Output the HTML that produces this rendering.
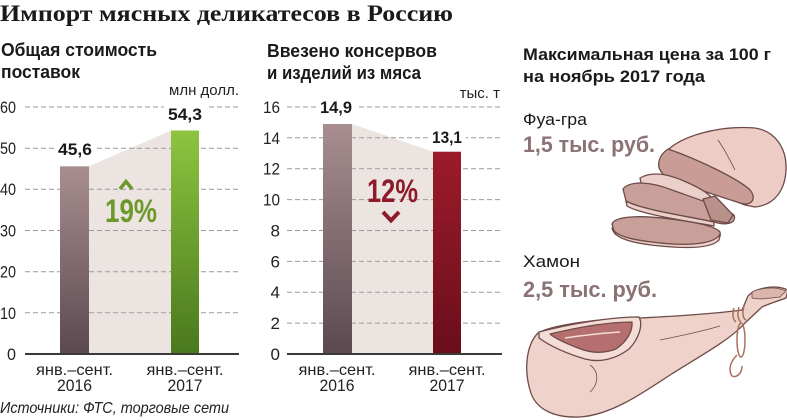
<!DOCTYPE html>
<html><head><meta charset="utf-8"><style>
html,body{margin:0;padding:0;background:#fff;}
svg{display:block;}
text{font-family:"Liberation Sans","Noto Sans CJK SC",sans-serif;}
</style></head><body>
<svg width="787" height="420" viewBox="0 0 787 420" xmlns="http://www.w3.org/2000/svg">
<defs>
<linearGradient id="gm" x1="0" y1="0" x2="0" y2="1"><stop offset="0" stop-color="#a88e90"/><stop offset="1" stop-color="#5b4950"/></linearGradient>
<linearGradient id="gg" x1="0" y1="0" x2="0" y2="1"><stop offset="0" stop-color="#8ec43f"/><stop offset="1" stop-color="#4a781d"/></linearGradient>
<linearGradient id="gr" x1="0" y1="0" x2="0" y2="1"><stop offset="0" stop-color="#9c1b2b"/><stop offset="1" stop-color="#6a0e1a"/></linearGradient>
</defs>

<!-- Title -->
<text x="0" y="21" font-weight="bold" font-size="23" fill="#1a1a1a" textLength="453" lengthAdjust="spacingAndGlyphs" style="font-family:'Liberation Serif',serif">Импорт мясных деликатесов в Россию</text>

<!-- LEFT CHART -->
<text x="1" y="56" font-weight="bold" font-size="18" fill="#1a1a1a" textLength="156" lengthAdjust="spacingAndGlyphs">Общая стоимость</text>
<text x="1" y="78" font-weight="bold" font-size="18" fill="#1a1a1a" textLength="79" lengthAdjust="spacingAndGlyphs">поставок</text>
<text x="239" y="95" text-anchor="end" font-size="15" fill="#222">млн долл.</text>

<polygon points="89,166.3 171,130.5 171,353 89,353" fill="#ece4e1"/>
<g stroke="#9a9a9a" stroke-width="1" stroke-dasharray="5,3">
<line x1="25" y1="107" x2="239" y2="107"/>
<line x1="25" y1="148.2" x2="239" y2="148.2"/>
<line x1="25" y1="189.3" x2="239" y2="189.3"/>
<line x1="25" y1="230.5" x2="239" y2="230.5"/>
<line x1="25" y1="271.7" x2="239" y2="271.7"/>
<line x1="25" y1="312.8" x2="239" y2="312.8"/>
</g>
<g font-size="17" fill="#222" text-anchor="end">
<text x="16" y="113" textLength="16" lengthAdjust="spacingAndGlyphs">60</text>
<text x="16" y="154" textLength="16" lengthAdjust="spacingAndGlyphs">50</text>
<text x="16" y="195" textLength="16" lengthAdjust="spacingAndGlyphs">40</text>
<text x="16" y="236.5" textLength="16" lengthAdjust="spacingAndGlyphs">30</text>
<text x="16" y="277.7" textLength="16" lengthAdjust="spacingAndGlyphs">20</text>
<text x="16" y="318.8" textLength="16" lengthAdjust="spacingAndGlyphs">10</text>
<text x="16" y="360" textLength="9" lengthAdjust="spacingAndGlyphs">0</text>
</g>
<rect x="60" y="166.3" width="29" height="187" fill="url(#gm)"/>
<rect x="171" y="130.5" width="28" height="223" fill="url(#gg)"/>
<rect x="54" y="140" width="42" height="18" fill="#fff"/>
<rect x="164" y="104" width="42" height="19" fill="#fff"/>
<text x="75" y="155" text-anchor="middle" font-weight="bold" font-size="17" fill="#1a1a1a" textLength="34" lengthAdjust="spacingAndGlyphs">45,6</text>
<text x="185" y="120" text-anchor="middle" font-weight="bold" font-size="17" fill="#1a1a1a" textLength="34" lengthAdjust="spacingAndGlyphs">54,3</text>
<polyline points="120,189 126,181.5 132,189" fill="none" stroke="#6b9a2b" stroke-width="3.5"/>
<text x="105" y="222" font-size="32" font-weight="bold" fill="#6b9a2b" textLength="52" lengthAdjust="spacingAndGlyphs">19%</text>
<line x1="25" y1="354" x2="239" y2="354" stroke="#3a3a3a" stroke-width="2"/>
<text x="74.5" y="375" text-anchor="middle" font-size="16" fill="#222" textLength="77" lengthAdjust="spacingAndGlyphs">янв.–сент.</text>
<text x="74.5" y="391" text-anchor="middle" font-size="17" fill="#222" textLength="35" lengthAdjust="spacingAndGlyphs">2016</text>
<text x="185" y="375" text-anchor="middle" font-size="16" fill="#222" textLength="77" lengthAdjust="spacingAndGlyphs">янв.–сент.</text>
<text x="185" y="391" text-anchor="middle" font-size="17" fill="#222" textLength="35" lengthAdjust="spacingAndGlyphs">2017</text>
<text x="0" y="413" font-style="italic" font-size="16" fill="#222" textLength="229" lengthAdjust="spacingAndGlyphs">Источники: ФТС, торговые сети</text>

<!-- MIDDLE CHART -->
<text x="267" y="57" font-weight="bold" font-size="18" fill="#1a1a1a" textLength="170" lengthAdjust="spacingAndGlyphs">Ввезено консервов</text>
<text x="267" y="79" font-weight="bold" font-size="18" fill="#1a1a1a" textLength="154" lengthAdjust="spacingAndGlyphs">и изделий из мяса</text>
<text x="500" y="98" text-anchor="end" font-size="15" fill="#222">тыс. т</text>

<polygon points="352,124 433,151.7 433,353 352,353" fill="#ece4e1"/>
<g stroke="#9a9a9a" stroke-width="1" stroke-dasharray="5,3">
<line x1="287" y1="107" x2="502" y2="107"/>
<line x1="287" y1="137.8" x2="502" y2="137.8"/>
<line x1="287" y1="168.7" x2="502" y2="168.7"/>
<line x1="287" y1="199.6" x2="502" y2="199.6"/>
<line x1="287" y1="230.5" x2="502" y2="230.5"/>
<line x1="287" y1="261.4" x2="502" y2="261.4"/>
<line x1="287" y1="292.2" x2="502" y2="292.2"/>
<line x1="287" y1="323.1" x2="502" y2="323.1"/>
</g>
<g font-size="17" fill="#222" text-anchor="end">
<text x="280" y="113" textLength="17" lengthAdjust="spacingAndGlyphs">16</text>
<text x="280" y="143.8" textLength="17" lengthAdjust="spacingAndGlyphs">14</text>
<text x="280" y="174.7" textLength="17" lengthAdjust="spacingAndGlyphs">12</text>
<text x="280" y="205.6" textLength="17" lengthAdjust="spacingAndGlyphs">10</text>
<text x="280" y="236.5">8</text>
<text x="280" y="267.4">6</text>
<text x="280" y="298.2">4</text>
<text x="280" y="329.1">2</text>
<text x="280" y="360">0</text>
</g>
<rect x="323" y="124" width="29" height="229.5" fill="url(#gm)"/>
<rect x="433" y="151.7" width="28" height="202" fill="url(#gr)"/>
<rect x="316" y="98" width="40" height="18" fill="#fff"/>
<rect x="428" y="127" width="38" height="18" fill="#fff"/>
<text x="336" y="113" text-anchor="middle" font-weight="bold" font-size="17" fill="#1a1a1a" textLength="32" lengthAdjust="spacingAndGlyphs">14,9</text>
<text x="447" y="143" text-anchor="middle" font-weight="bold" font-size="17" fill="#1a1a1a" textLength="30" lengthAdjust="spacingAndGlyphs">13,1</text>
<text x="367" y="202" font-size="32" font-weight="bold" fill="#8d1b29" textLength="51" lengthAdjust="spacingAndGlyphs">12%</text>
<polyline points="383,212 391,220.5 399,212" fill="none" stroke="#8d1b29" stroke-width="4"/>
<line x1="287" y1="354" x2="502" y2="354" stroke="#3a3a3a" stroke-width="2"/>
<text x="337" y="375" text-anchor="middle" font-size="16" fill="#222" textLength="77" lengthAdjust="spacingAndGlyphs">янв.–сент.</text>
<text x="337" y="391" text-anchor="middle" font-size="17" fill="#222" textLength="35" lengthAdjust="spacingAndGlyphs">2016</text>
<text x="447" y="375" text-anchor="middle" font-size="16" fill="#222" textLength="77" lengthAdjust="spacingAndGlyphs">янв.–сент.</text>
<text x="447" y="391" text-anchor="middle" font-size="17" fill="#222" textLength="35" lengthAdjust="spacingAndGlyphs">2017</text>

<!-- RIGHT PANEL -->
<text x="523" y="60" font-weight="bold" font-size="17" fill="#1a1a1a" textLength="248" lengthAdjust="spacingAndGlyphs">Максимальная цена за 100 г</text>
<text x="523" y="82" font-weight="bold" font-size="17" fill="#1a1a1a" textLength="182" lengthAdjust="spacingAndGlyphs">на ноябрь 2017 года</text>
<text x="523" y="125" font-size="17" fill="#1a1a1a" textLength="64" lengthAdjust="spacingAndGlyphs">Фуа-гра</text>
<text x="523" y="152" font-weight="bold" font-size="22" fill="#8b7274" textLength="132" lengthAdjust="spacingAndGlyphs">1,5 тыс. руб.</text>
<text x="523" y="267" font-size="17" fill="#1a1a1a" textLength="57" lengthAdjust="spacingAndGlyphs">Хамон</text>
<text x="523" y="297" font-weight="bold" font-size="22" fill="#8b7274" textLength="134" lengthAdjust="spacingAndGlyphs">2,5 тыс. руб.</text>

<!-- Foie gras -->
<g stroke="#6e4b48" stroke-width="1.3" stroke-linejoin="round">
<path d="M666,152 C680,136 720,125 755,128 C775,131 787,148 786,170 C785,190 775,205 755,207 L745,205 L680,180 Z" fill="#ecccc5"/>
<path d="M668,149 C659,155 655,166 663,174 C680,184 715,195 740,203 C752,207 757,198 750,190 C740,180 700,160 668,149 Z" fill="#c99c95"/>
<path d="M718,140 C725,150 730,160 735,170" fill="none" stroke-width="0.8"/>
<path d="M640,178 C652,171 668,174 684,181 C698,187 708,193 712,198 L707,204 C690,199 662,192 642,187 Z" fill="#ead0c9"/>
<path d="M623,189 C630,180 652,182 672,190 C700,200 725,208 734,215 C737,223 727,226 714,222 C680,215 640,209 626,201 Z" fill="#c9a099"/>
<path d="M626,201 C640,209 680,215 714,222 L714,226 C680,220 640,214 627,206 Z" fill="#ead0c9"/>
<path d="M703,199 L715,196 L733,215 L728,223 L711,220 Z" fill="#b8918b"/>
<path d="M612,224 C615,216 640,215 670,219 C695,222 715,226 720,232 C722,242 710,247 690,245 C660,244 630,240 615,234 Z" fill="#c9a099"/>
<path d="M612,228 C614,238 630,243 660,246 C690,249 712,248 719,240 L720,234 C715,244 690,246 660,243 C630,240 616,236 612,228 Z" fill="#ead0c9"/>
</g>

<!-- Jamon -->
<g stroke="#6e4b48" stroke-width="1.3" stroke-linejoin="round">
<path d="M538,333 C552,325 600,318 640,318 C680,316 720,313 742,310 L748,296 C755,288 775,284 788,290 L786,298 C778,301 768,304 762,307 L745,323 C730,340 700,356 670,375 C640,395 610,415 580,417 C555,418 535,410 530,390 C524,370 526,345 538,333 Z" fill="#efd2ca"/>
<path d="M539,332 C570,324 610,317 639,317 C644,326 637,341 629,349 C616,359 600,363 585,359 C565,353 550,346 539,338 Z" fill="#f4ddd7"/>
<path d="M550,334 C575,328 605,322 632,322 C633,332 626,342 616,349 C603,354 590,353 578,348 C565,343 556,339 550,334 Z" fill="#b46f6e"/>
<path d="M565,338 C585,335 605,333 620,332" fill="none" stroke="#f4ddd7" stroke-width="1.5"/>
<path d="M752,292 C760,288 775,286 786,291 L780,297 C770,298 760,300 752,298 Z" fill="#d9b5ab" stroke-width="0.8"/>
<path d="M590,365 C600,372 598,385 590,392" fill="none" stroke-width="0.8"/>
<path d="M660,340 C680,336 700,332 720,326" fill="none" stroke-width="0.8"/>
</g>
<g fill="none" stroke="#a9705f" stroke-width="1.5">
<path d="M734,308 C732,314 733,320 736,322"/>
<path d="M739,307 C737,314 738,320 741,322"/>
<path d="M744,306 C742,313 743,319 746,320"/>
<ellipse cx="741" cy="340" rx="4" ry="17"/>
<path d="M737,355 C730,362 728,370 732,376 C736,378 742,374 742,366"/>
</g>
</svg>
</body></html>
